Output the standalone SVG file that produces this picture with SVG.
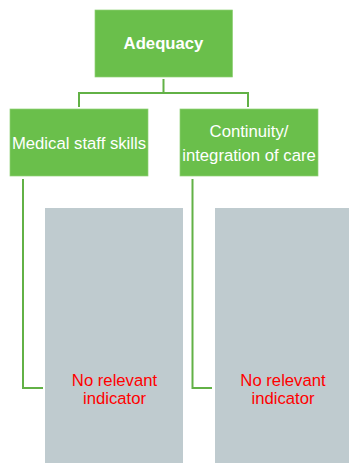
<svg xmlns="http://www.w3.org/2000/svg" width="349" height="463" viewBox="0 0 349 463">
<style>
.box{fill:#6abf4b;stroke:#8fd176;stroke-width:0.7}
.gray{fill:#bfcbcf}
.lbl{font-family:"Liberation Sans",Arial,sans-serif;font-size:16.7px;fill:#fff;text-anchor:middle}
.red{font-family:"Liberation Sans",Arial,sans-serif;font-size:16.7px;fill:#ff0000;text-anchor:middle}
.con{fill:none;stroke:#62b146;stroke-width:2}
</style>
<rect width="349" height="463" fill="#fff"/>
<g id="connectors">
<path class="con" d="M163.5 79 V93 M79 107 V93 H248 V107"/>
<path class="con" d="M23 179 V388 H43"/>
<path class="con" d="M192.5 179 V388 H212"/>
</g>
<g id="adequacy">
<rect class="box" x="95" y="10" width="137.5" height="67"/>
<text class="lbl" x="163.5" y="49" font-weight="bold" font-size="16.5px">Adequacy</text>
</g>
<g id="medical">
<rect class="box" x="10" y="109" width="138" height="67"/>
<text class="lbl" x="79" y="148.5">Medical staff skills</text>
</g>
<g id="continuity">
<rect class="box" x="180" y="109" width="138" height="67"/>
<text class="lbl" x="249" y="136.5">Continuity/</text>
<text class="lbl" x="249" y="161">integration of care</text>
</g>
<g id="indicator1">
<rect class="gray" x="45" y="208" width="138" height="255"/>
<text class="red" x="114.5" y="385.5">No relevant</text>
<text class="red" x="114.5" y="403.5">indicator</text>
</g>
<g id="indicator2">
<rect class="gray" x="215" y="208" width="134" height="255"/>
<text class="red" x="283" y="385.5">No relevant</text>
<text class="red" x="283" y="403.5">indicator</text>
</g>
</svg>
